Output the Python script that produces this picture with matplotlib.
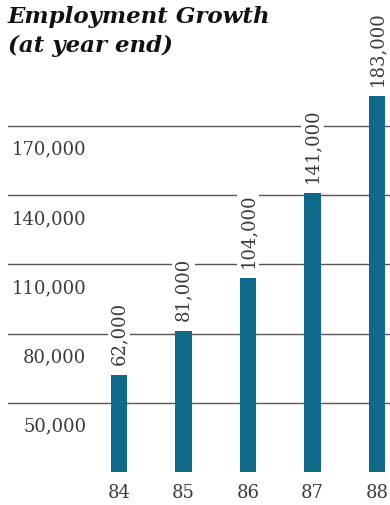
import matplotlib
matplotlib.use("Agg")
import matplotlib.pyplot as plt

# Employment at year end
years = ["84", "85", "86", "87", "88"]
employees = [62000, 81000, 104000, 141000, 183000]
value_labels = ["62,000", "81,000", "104,000", "141,000", "183,000"]
grid_values = [50000, 80000, 110000, 140000, 170000]
grid_labels = ["50,000", "80,000", "110,000", "140,000", "170,000"]

bar_color = "#11698a"
text_color = "#3a3a3a"
base = 20000

fig = plt.figure(figsize=(3.9, 5.06), dpi=100)
ax = fig.add_axes([8/390, 33/506, 382/390, 473/506])
ax.set_xlim(-1.72, 4.2)
ax.set_ylim(base, base + 473/2.308*1000)
for s in ax.spines.values():
    s.set_visible(False)
ax.set_xticks([])
ax.set_yticks([])

# horizontal rules with the scale label sitting under each one
for v, lab in zip(grid_values, grid_labels):
    ax.axhline(v, color="#555555", lw=1.0, zorder=1)
    ax.annotate(lab, xy=(0.205, v), xycoords=("axes fraction", "data"),
                xytext=(0, -10), textcoords="offset points",
                ha="right", va="top", fontsize=13, family="DejaVu Serif",
                color=text_color)

x = list(range(len(years)))
heights = [e - base for e in employees]
ax.bar(x, heights, bottom=base, width=0.26, color=bar_color, zorder=3)

for i, (e, lab) in enumerate(zip(employees, value_labels)):
    ax.annotate(lab, xy=(i, e), xytext=(0, 8), textcoords="offset points",
                rotation=90, ha="center", va="bottom", fontsize=13,
                family="DejaVu Serif", color=text_color, zorder=4,
                bbox=dict(facecolor="white", edgecolor="none", pad=1.5))
    ax.annotate(years[i], xy=(i, base), xytext=(0, -8), textcoords="offset points",
                ha="center", va="top", fontsize=13, family="DejaVu Serif",
                color=text_color, annotation_clip=False)

fig.text(8/390, 1 - 6/506, "Employment Growth\n(at year end)", ha="left", va="top",
         fontsize=16.5, family="DejaVu Serif", fontweight="bold", style="italic",
         color="#111111", linespacing=1.4)

fig.savefig("out.png", dpi=100, facecolor="white")
